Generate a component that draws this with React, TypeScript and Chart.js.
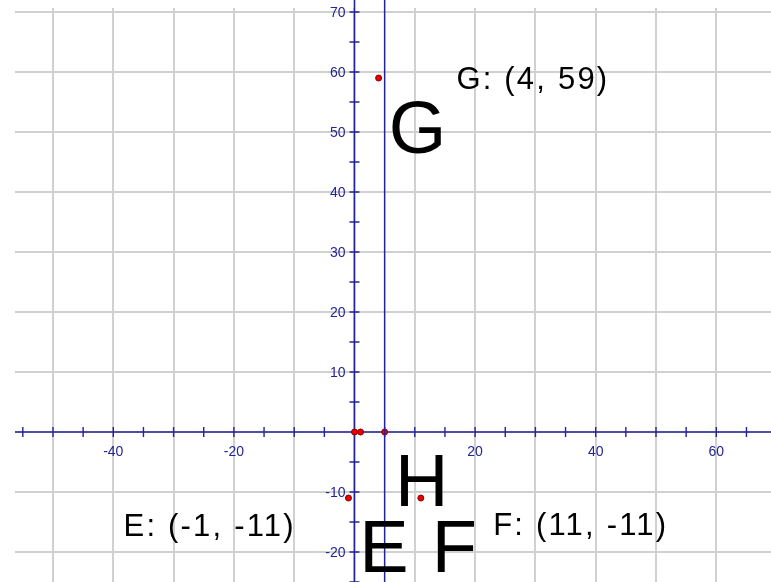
import React, { useEffect, useRef } from "react";
import { Chart, registerables } from "chart.js";

Chart.register(...registerables);

// ---- data ----
const pointNames = ["G", "E", "F", "P1", "P2", "P3"];
const pointsX = [4, -1, 11, 0, 1, 5];
const pointsY = [59, -11, -11, 0, 0, 0];
const verticalLineX = 5;
const xTickLabels = [-40, -20, 20, 40, 60];
const yTickLabels = [-20, -10, 10, 20, 30, 40, 50, 60, 70];
const coordLabelTexts = ["G: (4, 59)", "E: (-1, -11)", "F: (11, -11)"];
const coordLabelX = [16.9, -38.3, 23.0];
const coordLabelY = [57.2, -17.3, -17.2];
const bigLetters = ["G", "H", "E", "F"];
const bigLetterX = [5.7, 6.7, 0.8, 12.8];
const bigLetterY = [46.5, -12.3, -23.3, -23.3];

const AXIS = "#23239a";
const GRID = "#d0d0d0";

const overlay = {
  id: "overlay",
  beforeDatasetsDraw(chart: any) {
    const { ctx, chartArea, scales } = chart;
    const xs = scales.x;
    const ys = scales.y;
    const x0 = xs.getPixelForValue(0);
    const y0 = ys.getPixelForValue(0);
    ctx.save();
    // grid
    ctx.strokeStyle = GRID;
    ctx.lineWidth = 2;
    for (let v = -50; v <= 60; v += 10) {
      const px = Math.round(xs.getPixelForValue(v));
      ctx.beginPath();
      ctx.moveTo(px, chartArea.top);
      ctx.lineTo(px, chartArea.bottom);
      ctx.stroke();
    }
    for (let v = -20; v <= 70; v += 10) {
      const py = Math.round(ys.getPixelForValue(v));
      ctx.beginPath();
      ctx.moveTo(chartArea.left, py);
      ctx.lineTo(chartArea.right, py);
      ctx.stroke();
    }
    // axes
    ctx.strokeStyle = AXIS;
    ctx.lineWidth = 1.6;
    ctx.beginPath();
    ctx.moveTo(chartArea.left, y0);
    ctx.lineTo(chartArea.right, y0);
    ctx.moveTo(x0, 0);
    ctx.lineTo(x0, chart.height);
    ctx.stroke();
    // ticks
    ctx.lineWidth = 1.4;
    ctx.beginPath();
    for (let v = -55; v <= 65; v += 5) {
      if (v === 0) continue;
      const px = xs.getPixelForValue(v);
      ctx.moveTo(px, y0 - 5);
      ctx.lineTo(px, y0 + 5);
    }
    for (let v = -25; v <= 70; v += 5) {
      if (v === 0) continue;
      const py = ys.getPixelForValue(v);
      ctx.moveTo(x0 - 5, py);
      ctx.lineTo(x0 + 5, py);
    }
    ctx.stroke();
    // tick labels
    ctx.fillStyle = AXIS;
    ctx.font = "14px Arial, 'Liberation Sans', sans-serif";
    ctx.textAlign = "center";
    ctx.textBaseline = "middle";
    xTickLabels.forEach((v) => {
      ctx.fillText(String(v), xs.getPixelForValue(v), y0 + 20);
    });
    ctx.textAlign = "right";
    yTickLabels.forEach((v) => {
      ctx.fillText(String(v), x0 - 9, ys.getPixelForValue(v) + 1);
    });
    ctx.restore();
  },
  afterDatasetsDraw(chart: any) {
    const { ctx, scales } = chart;
    const xs = scales.x;
    const ys = scales.y;
    ctx.save();
    ctx.fillStyle = "#000";
    ctx.textAlign = "left";
    ctx.textBaseline = "alphabetic";
    ctx.font = "31px Arial, 'Liberation Sans', sans-serif";
    (ctx as any).letterSpacing = "2.2px";
    coordLabelTexts.forEach((t, i) => {
      ctx.fillText(t, xs.getPixelForValue(coordLabelX[i]), ys.getPixelForValue(coordLabelY[i]));
    });
    (ctx as any).letterSpacing = "0px";
    ctx.font = "74px Arial, 'Liberation Sans', sans-serif";
    bigLetters.forEach((t, i) => {
      ctx.fillText(t, xs.getPixelForValue(bigLetterX[i]), ys.getPixelForValue(bigLetterY[i]));
    });
    ctx.restore();
  },
};

export default function App() {
  const ref = useRef<HTMLCanvasElement | null>(null);
  useEffect(() => {
    if (!ref.current) return;
    const chart = new Chart(ref.current, {
      type: "scatter",
      data: {
        datasets: [
          {
            type: "line",
            label: "x = 5",
            data: [
              { x: verticalLineX, y: -27 },
              { x: verticalLineX, y: 73 },
            ],
            borderColor: AXIS,
            borderWidth: 1.5,
            pointRadius: 0,
            clip: false as any,
          } as any,
          {
            label: "points",
            data: pointsX.map((x, i) => ({ x, y: pointsY[i], name: pointNames[i] })),
            backgroundColor: "#e60000",
            borderColor: "#8a0000",
            borderWidth: 1,
            pointRadius: 3,
          },
        ],
      },
      options: {
        animation: false,
        responsive: false,
        maintainAspectRatio: false,
        layout: { autoPadding: false, padding: { left: 15, top: 8, right: 0, bottom: 0 } },
        plugins: { legend: { display: false }, tooltip: { enabled: false } },
        scales: {
          x: { type: "linear", min: -56.3, max: 69.07, display: false },
          y: { type: "linear", min: -25, max: 70.67, display: false },
        },
      },
      plugins: [overlay],
    });
    return () => chart.destroy();
  }, []);
  return (
    <div style={{ position: "absolute", left: 0, top: 0, width: 771, height: 582, background: "#fff" }}>
      <canvas ref={ref} width={771} height={582} style={{ width: 771, height: 582, display: "block" }} />
    </div>
  );
}
